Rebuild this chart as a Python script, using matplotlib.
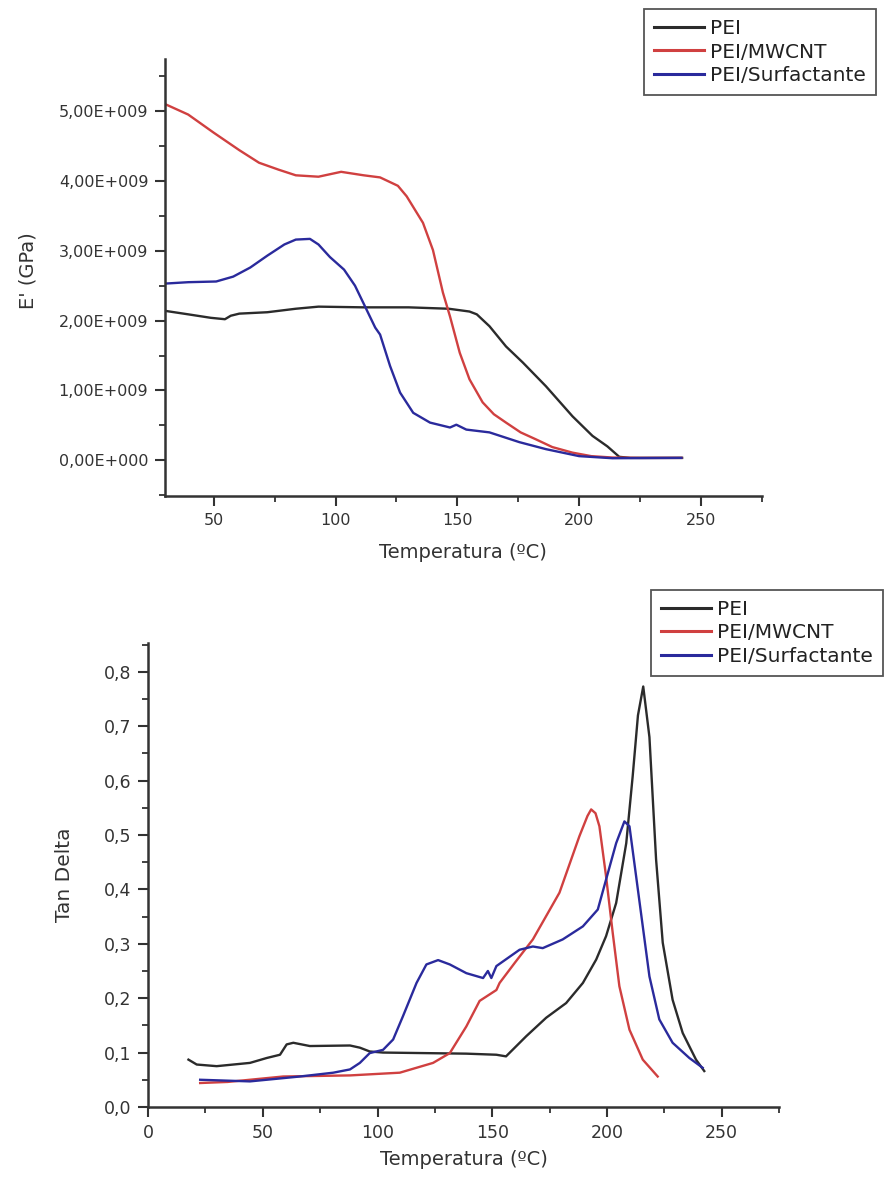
import matplotlib
matplotlib.use("Agg")
import matplotlib.pyplot as plt
from matplotlib.ticker import MultipleLocator, FuncFormatter

# ---------------- Data: storage modulus E' ----------------
e_pei_T = [30, 39.5, 48.8, 54.6, 57, 60.5, 72, 83.7, 93, 111.6, 130, 146.5, 155, 158,
           163.2, 170, 176.9, 186.4, 197.3, 205.5, 211.6, 216.5, 221, 242.3]
e_pei_E = [2.14, 2.09, 2.04, 2.02, 2.07, 2.10, 2.12, 2.17, 2.20, 2.19, 2.19, 2.17, 2.13, 2.09,
           1.92, 1.63, 1.40, 1.06, 0.63, 0.35, 0.20, 0.05, 0.035, 0.035]

e_cnt_T = [30, 39.5, 50, 60.5, 68.6, 76.7, 83.7, 93, 102.3, 111.6, 118.3, 125.6, 129.2,
           135.9, 140, 144.1, 147, 151, 155, 160.4, 165, 170, 176, 182.3, 189, 197.3,
           205, 213.7, 225, 242]
e_cnt_E = [5.10, 4.95, 4.69, 4.44, 4.26, 4.16, 4.08, 4.06, 4.13, 4.08, 4.05, 3.93, 3.78,
           3.40, 3.01, 2.40, 2.06, 1.54, 1.16, 0.83, 0.66, 0.54, 0.40, 0.30, 0.19, 0.11,
           0.06, 0.04, 0.035, 0.035]

e_surf_T = [30, 39.5, 51, 58, 65, 72, 79, 83.7, 89.5, 93, 97.7, 103.5, 108, 111.6, 116.3,
            118.3, 122.4, 126.5, 131.9, 138.8, 147, 149.6, 153.7, 163.2, 175.5, 186.4,
            200, 213.7, 242]
e_surf_E = [2.53, 2.55, 2.56, 2.63, 2.76, 2.93, 3.09, 3.16, 3.17, 3.09, 2.91, 2.73, 2.50,
            2.24, 1.90, 1.80, 1.35, 0.97, 0.68, 0.54, 0.47, 0.51, 0.44, 0.40, 0.26, 0.16,
            0.06, 0.03, 0.035]

# ---------------- Data: tan delta ----------------
t_pei_T = [17.6, 21.2, 29.9, 44.4, 51.7, 57.5, 60.4, 63.3, 70.5, 88, 92.3, 96.6, 102.4,
           138.7, 151.8, 156, 164.8, 173.5, 182.2, 189.5, 195.3, 199.6, 204, 208.4, 211.2,
           213.5, 215.8, 218.5, 221.4, 224.3, 228.6, 233, 238.8, 242.4]
t_pei_D = [0.087, 0.078, 0.075, 0.081, 0.090, 0.096, 0.115, 0.118, 0.112, 0.113, 0.109,
           0.102, 0.100, 0.098, 0.096, 0.093, 0.130, 0.164, 0.191, 0.228, 0.271, 0.314,
           0.375, 0.485, 0.608, 0.720, 0.773, 0.680, 0.455, 0.302, 0.197, 0.136, 0.087, 0.066]

t_cnt_T = [22.7, 34.7, 58.9, 88, 109.7, 124.2, 131.5, 138.7, 144.5, 151.8, 153.2, 160,
           167.7, 179.3, 188, 191.5, 193.1, 195, 196.7, 199.6, 202.5, 205.4, 209.8,
           215.6, 222.1]
t_cnt_D = [0.044, 0.046, 0.056, 0.058, 0.063, 0.081, 0.099, 0.148, 0.195, 0.215, 0.228,
           0.266, 0.308, 0.394, 0.498, 0.535, 0.547, 0.540, 0.516, 0.424, 0.320, 0.222,
           0.142, 0.087, 0.056]

t_surf_T = [22.7, 44.4, 66.2, 80.7, 88, 92.3, 96.6, 102.4, 106.8, 111.1, 117, 121.3, 126.4,
            131.5, 138.7, 146, 148.1, 149.6, 151.8, 161.9, 167.7, 172, 180.7, 189.5, 196,
            199.6, 204, 207.6, 209.8, 212.7, 215.6, 218.5, 222.8, 228.6, 235.9, 241.7]
t_surf_D = [0.050, 0.047, 0.056, 0.063, 0.069, 0.081, 0.099, 0.105, 0.124, 0.167, 0.228,
            0.262, 0.270, 0.262, 0.246, 0.237, 0.250, 0.237, 0.259, 0.289, 0.295, 0.292,
            0.308, 0.332, 0.363, 0.418, 0.485, 0.525, 0.516, 0.424, 0.332, 0.240, 0.161,
            0.118, 0.090, 0.072]

labels = ["PEI", "PEI/MWCNT", "PEI/Surfactante"]
colors = ["#2b2b2b", "#d04040", "#2a2a9c"]

plt.rcParams['font.family'] = ['DejaVu Sans']

fig = plt.figure(figsize=(8.92, 11.8), dpi=100)
ax1 = fig.add_axes([0.185, 0.5797, 0.669, 0.370])
ax2 = fig.add_axes([0.166, 0.0619, 0.7074, 0.3932])

lw = 1.7
for T, E, c, l in zip([e_pei_T, e_cnt_T, e_surf_T], [e_pei_E, e_cnt_E, e_surf_E], colors, labels):
    ax1.plot(T, [v * 1e9 for v in E], color=c, lw=lw, label=l)
for T, D, c, l in zip([t_pei_T, t_cnt_T, t_surf_T], [t_pei_D, t_cnt_D, t_surf_D], colors, labels):
    ax2.plot(T, D, color=c, lw=lw, label=l)

def efmt(v, pos):
    if abs(v) < 1:
        return "0,00E+000"
    return ("%.2f" % (v / 1e9)).replace('.', ',') + "E+009"

ax1.set_xlim(30, 275)
ax1.set_ylim(-0.51e9, 5.74e9)
ax1.xaxis.set_major_locator(MultipleLocator(50))
ax1.xaxis.set_minor_locator(MultipleLocator(25))
ax1.yaxis.set_major_locator(MultipleLocator(1e9))
ax1.yaxis.set_minor_locator(MultipleLocator(0.5e9))
ax1.yaxis.set_major_formatter(FuncFormatter(efmt))
ax1.set_xticks([50, 100, 150, 200, 250])

ax2.set_xlim(0, 275)
ax2.set_ylim(0, 0.853)
ax2.xaxis.set_major_locator(MultipleLocator(50))
ax2.xaxis.set_minor_locator(MultipleLocator(25))
ax2.yaxis.set_major_locator(MultipleLocator(0.1))
ax2.yaxis.set_minor_locator(MultipleLocator(0.05))
ax2.yaxis.set_major_formatter(FuncFormatter(lambda v, p: ("%.1f" % v).replace('.', ',')))

for ax, fs in [(ax1, 11.5), (ax2, 12.5)]:
    for s in ['top', 'right']:
        ax.spines[s].set_visible(False)
    for s in ['left', 'bottom']:
        ax.spines[s].set_linewidth(1.8)
        ax.spines[s].set_color('#333333')
    ax.tick_params(which='major', direction='out', length=7, width=1.5, colors='#333333',
                   labelsize=fs, pad=5)
    ax.tick_params(which='minor', direction='out', length=4, width=1.3, colors='#333333')
    ax.set_xlabel("Temperatura (ºC)", fontsize=14, color='#333333')

ax1.set_ylabel("E' (GPa)", fontsize=14, color='#333333')
ax2.set_ylabel("Tan Delta", fontsize=14.5, color='#333333')
ax1.yaxis.set_label_coords(-0.214, 0.515)
ax1.xaxis.set_label_coords(0.5, -0.108)
ax2.yaxis.set_label_coords(-0.117, 0.5)
ax2.xaxis.set_label_coords(0.5, -0.093)

leg_kw = dict(fontsize=14.5, frameon=True, fancybox=False, borderpad=0.5, handlelength=2.5,
              handletextpad=0.3, labelspacing=0.22, borderaxespad=0, framealpha=1)
l1 = ax1.legend(loc='upper right', bbox_to_anchor=(876 / 892, 1 - 9 / 1180),
                bbox_transform=fig.transFigure, **leg_kw)
l2 = ax2.legend(loc='upper left', bbox_to_anchor=(651 / 892, 1 - 590 / 1180),
                bbox_transform=fig.transFigure, **leg_kw)
for lg in (l1, l2):
    lg.get_frame().set_edgecolor('#555555')
    lg.get_frame().set_linewidth(1.3)
    for line in lg.get_lines():
        line.set_linewidth(2.2)
    for t in lg.get_texts():
        t.set_color('#222222')

fig.savefig("out.png", dpi=100)
